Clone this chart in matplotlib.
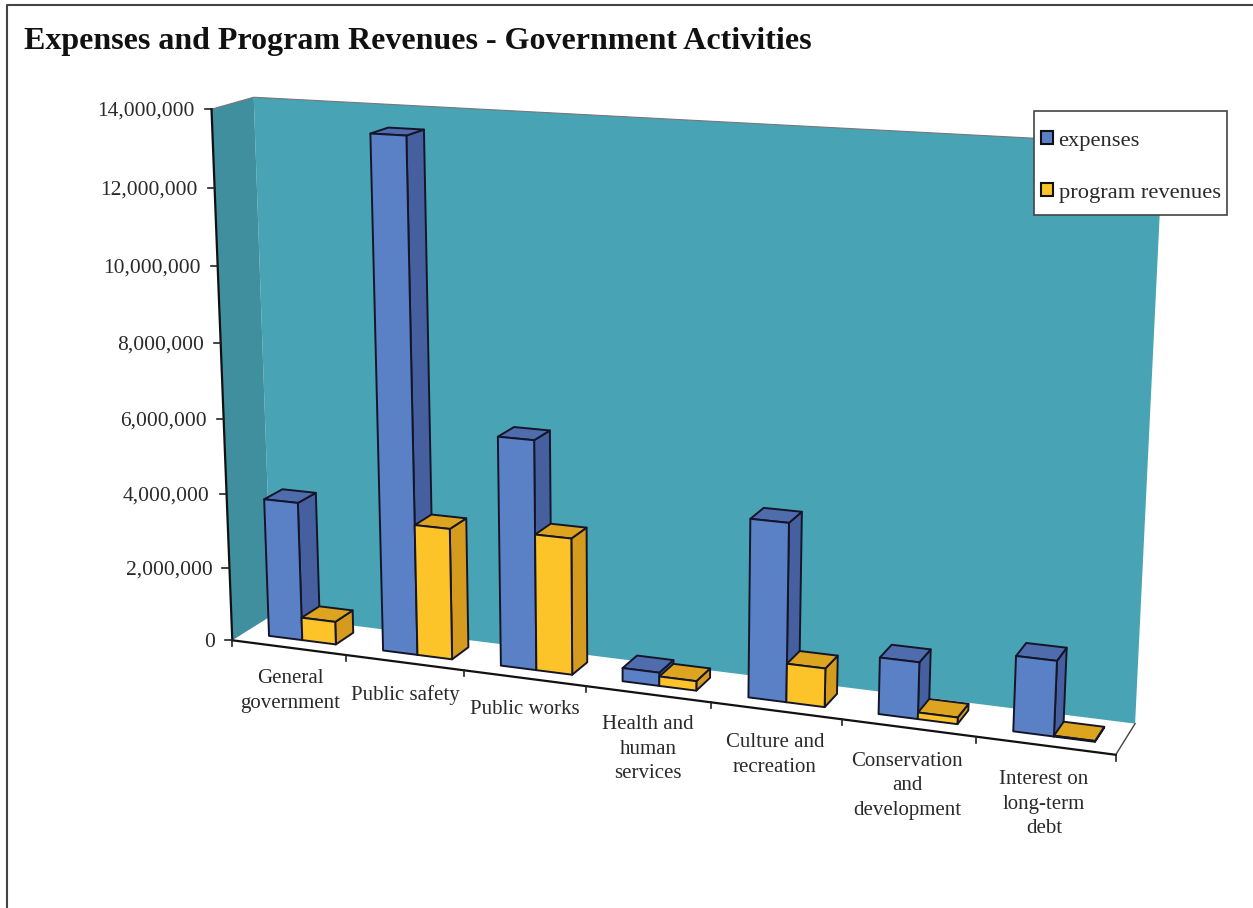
import numpy as np
import matplotlib
matplotlib.use('Agg')
import matplotlib.pyplot as plt
from matplotlib.patches import Polygon, Patch, Rectangle

plt.rcParams['font.family'] = ['Liberation Serif', 'DejaVu Serif']

title = 'Expenses and Program Revenues - Government Activities'
categories = ['General\ngovernment', 'Public safety', 'Public works', 'Health and\nhuman\nservices',
              'Culture and\nrecreation', 'Conservation\nand\ndevelopment', 'Interest on\nlong-term\ndebt']
expenses = [3750000, 13500000, 6050000, 350000, 4600000, 1450000, 1900000]
revenues = [620000, 3500000, 3600000, 250000, 1000000, 170000, 20000]
y_ticks = [0, 2000000, 4000000, 6000000, 8000000, 10000000, 12000000, 14000000]

# where the chart box corners and ticks sit on the page (u, depth, value in millions) -> pixels
calib_world = [(0, 0, 0), (1, 0, 0), (2, 0, 0), (3, 0, 0), (4, 0, 0), (5, 0, 0), (6, 0, 0), (7, 0, 0),
               (0, 0, 2), (0, 0, 4), (0, 0, 6), (0, 0, 8), (0, 0, 10), (0, 0, 12), (0, 0, 14),
               (0, 1, 0), (7, 1, 0), (0, 1, 14), (7, 1, 14)]
calib_px = [(233, 639), (347, 655), (465, 670), (585, 686), (710, 702), (841, 720), (975, 737), (1117, 757),
            (230, 567), (227, 494), (224, 420), (221, 343), (218, 266), (214, 188), (210, 109),
            (270, 618), (1136, 720), (255, 97), (1163, 146)]

A = []
b = []
for (X, Y, Z), (px, py) in zip(calib_world, calib_px):
    A.append([X, Y, Z, 1, 0, 0, 0, 0, -px * X, -px * Y, -px * Z])
    b.append(px)
    A.append([0, 0, 0, 0, X, Y, Z, 1, -py * X, -py * Y, -py * Z])
    b.append(py)
cam = np.append(np.linalg.lstsq(np.array(A, float), np.array(b, float), rcond=None)[0], 1).reshape(3, 4)


def proj(u, d, v):
    w = cam @ np.array([u, d, v / 1e6, 1.0])
    return w[0] / w[2], w[1] / w[2]


def quad(p, color, edge='none', lw=0.0, z=1):
    ax.add_patch(Polygon([proj(*q) for q in p], closed=True, facecolor=color, edgecolor=edge, linewidth=lw,
                         joinstyle='round', zorder=z))


fig = plt.figure(figsize=(12.53, 9.08), dpi=100)
ax = fig.add_axes([0, 0, 1, 1])
ax.set_xlim(0, 1253)
ax.set_ylim(908, 0)
ax.axis('off')

# page frame
ax.plot([7, 7, 1253], [908, 5, 5], color='#444444', lw=1.5)

top = y_ticks[-1]
n = len(categories)
quad([(0, 1, 0), (n, 1, 0), (n, 1, top), (0, 1, top)], '#48A3B4')
quad([(0, 0, 0), (0, 1, 0), (0, 1, top), (0, 0, top)], '#3F8F9F')
ax.plot(*zip(proj(0, 0, top), proj(0, 1, top), proj(n, 1, top)), color='#777777', lw=0.8)
ax.plot(*zip(proj(n, 0, 0), proj(n, 1, 0)), color='#444444', lw=1.0)

# axes lines and ticks
ax.plot(*zip(proj(0, 0, 0), proj(0, 0, top)), color='#111111', lw=1.6)
ax.plot(*zip(proj(0, 0, 0), proj(n, 0, 0)), color='#111111', lw=1.6)
for v in y_ticks:
    x, y = proj(0, 0, v)
    ax.plot([x - 7, x], [y, y], color='#222222', lw=1.2)
    ax.text(x - 17, y + 2, f'{v:,}', ha='right', va='center', fontsize=15.5, color='#2a2a2a')
for i in range(n + 1):
    x, y = proj(i, 0, 0)
    ax.plot([x, x], [y, y + 6], color='#222222', lw=1.2)

label_xy = [(290, 691), (405, 695), (525, 709), (648, 749), (775, 755), (907, 786), (1044, 804)]
for lab, (x, y) in zip(categories, label_xy):
    ax.text(x, y, lab, ha='center', va='center', fontsize=15, color='#2a2a2a', linespacing=1.4)

# bars, left to right so the nearer ones cover the sides
bar_w = 0.295
d0, d1 = 0.30, 0.76
edge = '#15152a'
for i in range(n):
    for k, (val, cf, cs, ct) in enumerate([(expenses[i], '#5A80C6', '#46609F', '#4F6CAD'),
                                           (revenues[i], '#FDC42A', '#D49B1E', '#DDA420')]):
        u0 = i + 0.22 + k * bar_w
        u1 = u0 + bar_w
        quad([(u1, d0, 0), (u1, d1, 0), (u1, d1, val), (u1, d0, val)], cs, edge, 1.4, 3)
        quad([(u0, d0, val), (u1, d0, val), (u1, d1, val), (u0, d1, val)], ct, edge, 1.4, 3)
        quad([(u0, d0, 0), (u1, d0, 0), (u1, d0, val), (u0, d0, val)], cf, edge, 1.4, 3)

ax.text(24, 41, title, ha='left', va='center', fontsize=23, fontweight='bold', color='#111111')

# legend box sits a bit away from its entries, so the frame is drawn on its own
ax.add_patch(Rectangle((1034, 111), 193, 104, facecolor='white', edgecolor='#444444', linewidth=1.2, zorder=9))
handles = [Patch(facecolor='#5A80C6', edgecolor='#111111', linewidth=1.5, label='expenses'),
           Patch(facecolor='#FDC42A', edgecolor='#111111', linewidth=1.5, label='program revenues')]
leg = ax.legend(handles=handles, loc='upper left', bbox_to_anchor=(1041, 131), bbox_transform=ax.transData,
                borderaxespad=0, borderpad=0, fontsize=16.2, frameon=False,
                handlelength=0.53, handleheight=0.53, handletextpad=0.25, labelspacing=1.45,
                labelcolor='#2a2a2a')
leg.set_zorder(10)

fig.savefig('out.png', dpi=100)
